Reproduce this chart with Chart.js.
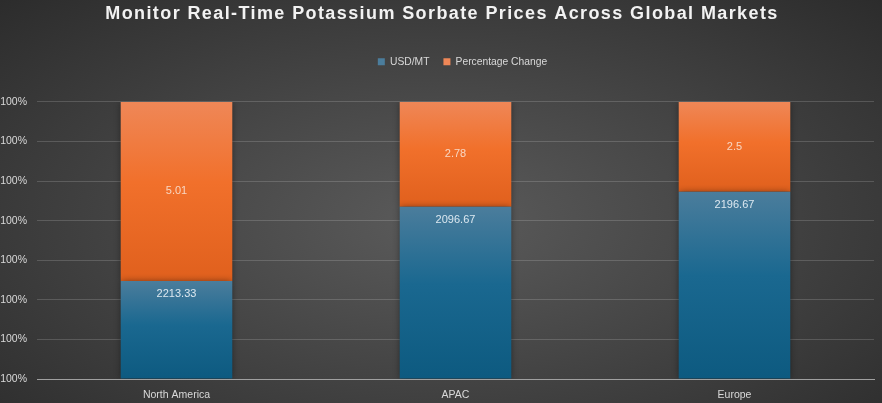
<!DOCTYPE html>
<html>
<head>
<meta charset="utf-8">
<script src="https://cdn.jsdelivr.net/npm/chart.js@4"></script>
<style>
  html, body { margin: 0; padding: 0; }
  #wrap {
    width: 882px; height: 403px; position: relative;
    background: radial-gradient(ellipse at 50% 55%, #5b5b5b 0%, #464646 45%, #2c2c2c 100%);
  }
</style>
</head>
<body>
<div id="wrap"><canvas id="c" width="882" height="403"></canvas></div>
<script>
// data
var categories = ['North America', 'APAC', 'Europe'];
var usdValues = [2213.33, 2096.67, 2196.67];     // label values, USD/MT
var pctValues = [5.01, 2.78, 2.5];               // label values, percentage change
var usdShare = [35.4, 62.2, 67.6];               // segment height, % of bar
var pctShare = [64.6, 37.8, 32.4];
var yTickLabels = ['100%', '100%', '100%', '100%', '100%', '100%', '100%', '100%'];

// vertical gradient over one stacked segment
function segGradient(c, top, mid, bottom, solid) {
    var chart = c.chart;
    if (!chart.chartArea || c.dataIndex === undefined) return solid;
    var y = chart.scales.y;
    var lo = 0, hi = 0;
    for (var d = 0; d <= c.datasetIndex; d++) {
        lo = hi;
        hi += chart.data.datasets[d].data[c.dataIndex];
    }
    var g = chart.ctx.createLinearGradient(0, y.getPixelForValue(hi), 0, y.getPixelForValue(lo));
    g.addColorStop(0, top);
    g.addColorStop(0.45, mid);
    g.addColorStop(1, bottom);
    return g;
}

var tweaks = {
    id: 'tweaks',
    afterInit: function (chart) {
        // spaced-out title letters
        var tb = chart.titleBlock;
        var draw = tb.draw;
        tb.draw = function () {
            chart.ctx.save();
            chart.ctx.letterSpacing = '1.4px';
            chart.ctx.translate(5, 0);
            draw.apply(this, arguments);
            chart.ctx.restore();
        };
        // extra room under the legend, legend nudged right
        var lg = chart.legend;
        var fit = lg.fit;
        lg.fit = function () {
            fit.apply(this, arguments);
            this.height += 25;
        };
        var ldraw = lg.draw;
        lg.draw = function () {
            chart.ctx.save();
            chart.ctx.translate(7, 0);
            ldraw.apply(this, arguments);
            chart.ctx.restore();
        };
    }
};

var labelPlugin = {
    id: 'segLabels',
    beforeDatasetsDraw: function (chart) {
        var ctx = chart.ctx;
        ctx.save();
        ctx.shadowColor = 'rgba(0,0,0,0.5)';
        ctx.shadowBlur = 7;
    },
    afterDatasetsDraw: function (chart) {
        var ctx = chart.ctx;
        ctx.restore();
        ctx.save();
        ctx.font = '11px "Liberation Sans", Arial, sans-serif';
        ctx.textAlign = 'center';
        ctx.textBaseline = 'middle';
        chart.getDatasetMeta(0).data.forEach(function (bar, i) {
            ctx.fillStyle = '#dce8f0';
            ctx.fillText(usdValues[i].toFixed(2), bar.x, bar.y + 13);
        });
        chart.getDatasetMeta(1).data.forEach(function (bar, i) {
            ctx.fillStyle = '#f8d6c2';
            ctx.fillText(String(pctValues[i]), bar.x, (bar.y + bar.base) / 2);
        });
        ctx.restore();
    }
};

new Chart(document.getElementById('c').getContext('2d'), {
    type: 'bar',
    data: {
        labels: categories,
        datasets: [{
            label: 'USD/MT',
            data: usdShare,
            backgroundColor: function (c) { return segGradient(c, '#4b7d9c', '#1a6890', '#0d5a80', '#1f6b94'); }
        }, {
            label: 'Percentage Change',
            data: pctShare,
            backgroundColor: function (c) { return segGradient(c, '#ef8757', '#f1702b', '#e0601d', '#f07030'); }
        }]
    },
    options: {
        responsive: false,
        animation: false,
        layout: { padding: { left: 0, right: 8, top: 0, bottom: 3 } },
        datasets: { bar: { categoryPercentage: 1, barPercentage: 0.4 } },
        plugins: {
            title: {
                display: true,
                text: 'Monitor Real-Time Potassium Sorbate Prices Across Global Markets',
                color: '#f2f2f2',
                font: { family: '"Liberation Sans", Arial, sans-serif', size: 18, weight: 'bold' },
                padding: { top: 3, bottom: 18 }
            },
            legend: {
                fullSize: false,
                labels: {
                    color: '#d9d9d9',
                    boxWidth: 7,
                    boxHeight: 7,
                    padding: 14,
                    font: { family: '"Liberation Sans", Arial, sans-serif', size: 10.3 }
                }
            },
            tooltip: { enabled: false }
        },
        scales: {
            x: {
                stacked: true,
                grid: { display: false, drawTicks: false },
                border: { color: '#a0a0a0', width: 1 },
                afterFit: function (scale) { scale.height = 21; },
                ticks: { color: '#d9d9d9', padding: 10, font: { family: '"Liberation Sans", Arial, sans-serif', size: 10.5 } }
            },
            y: {
                stacked: true,
                min: 0,
                max: 100,
                afterBuildTicks: function (scale) {
                    scale.ticks = yTickLabels.map(function (t, k) { return { value: k * 100 / 7 }; });
                },
                afterFit: function (scale) { scale.width = 37; },
                grid: { color: 'rgba(255,255,255,0.16)', drawTicks: false },
                border: { display: false },
                ticks: {
                    color: '#d9d9d9',
                    padding: 10,
                    font: { family: '"Liberation Sans", Arial, sans-serif', size: 10.5 },
                    callback: function (v, k) { return yTickLabels[k]; }
                }
            }
        }
    },
    plugins: [tweaks, labelPlugin]
});
</script>
</body>
</html>
